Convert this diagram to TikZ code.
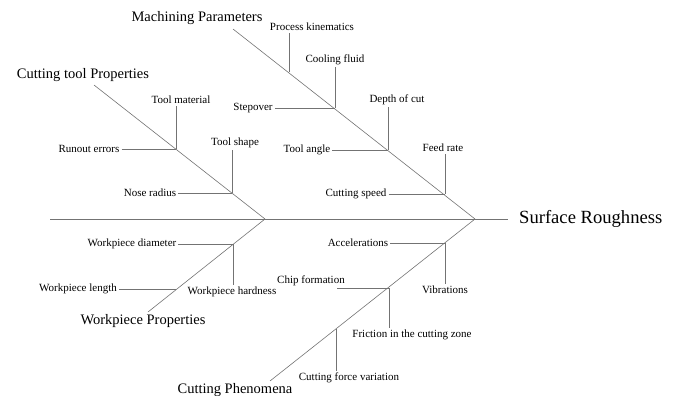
\documentclass[tikz,border=0pt]{standalone}
\usepackage{fontspec}
\setmainfont{Liberation Serif}
\usetikzlibrary{positioning}
\tikzset{
	bone/.style={draw=black!55, line width=0.6pt},
	cause/.style={font=\fontsize{11}{12}\selectfont, inner sep=2pt},
	category/.style={font=\fontsize{14.5}{17}\selectfont, inner sep=1pt},
	effect/.style={font=\fontsize{18.6}{21}\selectfont, anchor=west, inner xsep=11pt}
}

\begin{document}
\begin{tikzpicture}[x=1pt,y=-1pt]
	\useasboundingbox (0,0) rectangle (678,396);
	%%%spine
	\coordinate (tail) at (50,219);
	\coordinate (jl) at (265,219);
	\coordinate (jr) at (475,219);
	\node[effect] (effect) at (508,219) {Surface Roughness};
	\draw[bone] (tail) -- (effect.west);
	
	%%%Machining Parameters
	\node[category] (mach) at (197,18) {Machining Parameters};
	\coordinate (machend) at (233,29);
	\draw[bone] (machend) -- (jr);
	\coordinate (m1) at (289,72);
	\coordinate (m2) at (335,108);
	\coordinate (m3) at (388,150);
	\coordinate (m4) at (445,194);
	\node[cause] (kin) at (312,27) {Process kinematics};
	\node[cause] (cool) at (335,60) {Cooling fluid};
	\node[cause] (step) at (253,108) {Stepover};
	\node[cause] (depth) at (397,100) {Depth of cut};
	\node[cause] (angle) at (307,150) {Tool angle};
	\node[cause] (feed) at (443,148) {Feed rate};
	\node[cause] (speed) at (356,194) {Cutting speed};
	\draw[bone] (m1) -- (m1 |- kin.south);
	\draw[bone] (m2) -- (m2 |- cool.south);
	\draw[bone] (step) -- (m2);
	\draw[bone] (m3) -- (m3 |- depth.south);
	\draw[bone] (angle) -- (m3);
	\draw[bone] (m4) -- (m4 |- feed.south);
	\draw[bone] (speed) -- (m4);
	
	%%%Cutting tool Properties
	\node[category] (tool) at (83,75) {Cutting tool Properties};
	\coordinate (toolend) at (94,85);
	\draw[bone] (toolend) -- (jl);
	\coordinate (t1) at (176,149);
	\coordinate (t2) at (232,193);
	\node[cause] (tmat) at (181,100) {Tool material};
	\node[cause] (runout) at (89,149) {Runout errors};
	\node[cause] (tshape) at (235,143) {Tool shape};
	\node[cause] (nose) at (150,193) {Nose radius};
	\draw[bone] (t1) -- (t1 |- tmat.south);
	\draw[bone] (runout) -- (t1);
	\draw[bone] (t2) -- (t2 |- tshape.south);
	\draw[bone] (nose) -- (t2);
	
	%%%Workpiece Properties
	\node[category] (work) at (143,321) {Workpiece Properties};
	\coordinate (workend) at (148,312);
	\draw[bone] (jl) -- (workend);
	\coordinate (w1) at (233,244);
	\coordinate (w2) at (176,289);
	\node[cause] (wdiam) at (132,244) {Workpiece diameter};
	\node[cause] (whard) at (232,292) {Workpiece hardness};
	\node[cause] (wlen) at (78,289) {Workpiece length};
	\draw[bone] (wdiam) -- (w1);
	\draw[bone] (w1) -- (w1 |- whard.north);
	\draw[bone] (wlen) -- (w2);
	
	%%%Cutting Phenomena
	\node[category] (phen) at (235,390) {Cutting Phenomena};
	\coordinate (phenend) at (270,381);
	\draw[bone] (jr) -- (phenend);
	\coordinate (p1) at (445,243);
	\coordinate (p2) at (389,288);
	\coordinate (p3) at (336,329);
	\coordinate (chipend) at (337,288);
	\node[cause] (accel) at (358,243) {Accelerations};
	\node[cause] (vib) at (445,290) {Vibrations};
	\node[cause] (chip) at (311,281) {Chip formation};
	\node[cause] (fric) at (412,335) {Friction in the cutting zone};
	\node[cause] (force) at (349,378) {Cutting force variation};
	\draw[bone] (accel) -- (p1);
	\draw[bone] (p1) -- (p1 |- vib.north);
	\draw[bone] (chipend) -- (p2);
	\draw[bone] (p2) -- (p2 |- fric.north);
	\draw[bone] (p3) -- (p3 |- force.north);
\end{tikzpicture}
\end{document}
